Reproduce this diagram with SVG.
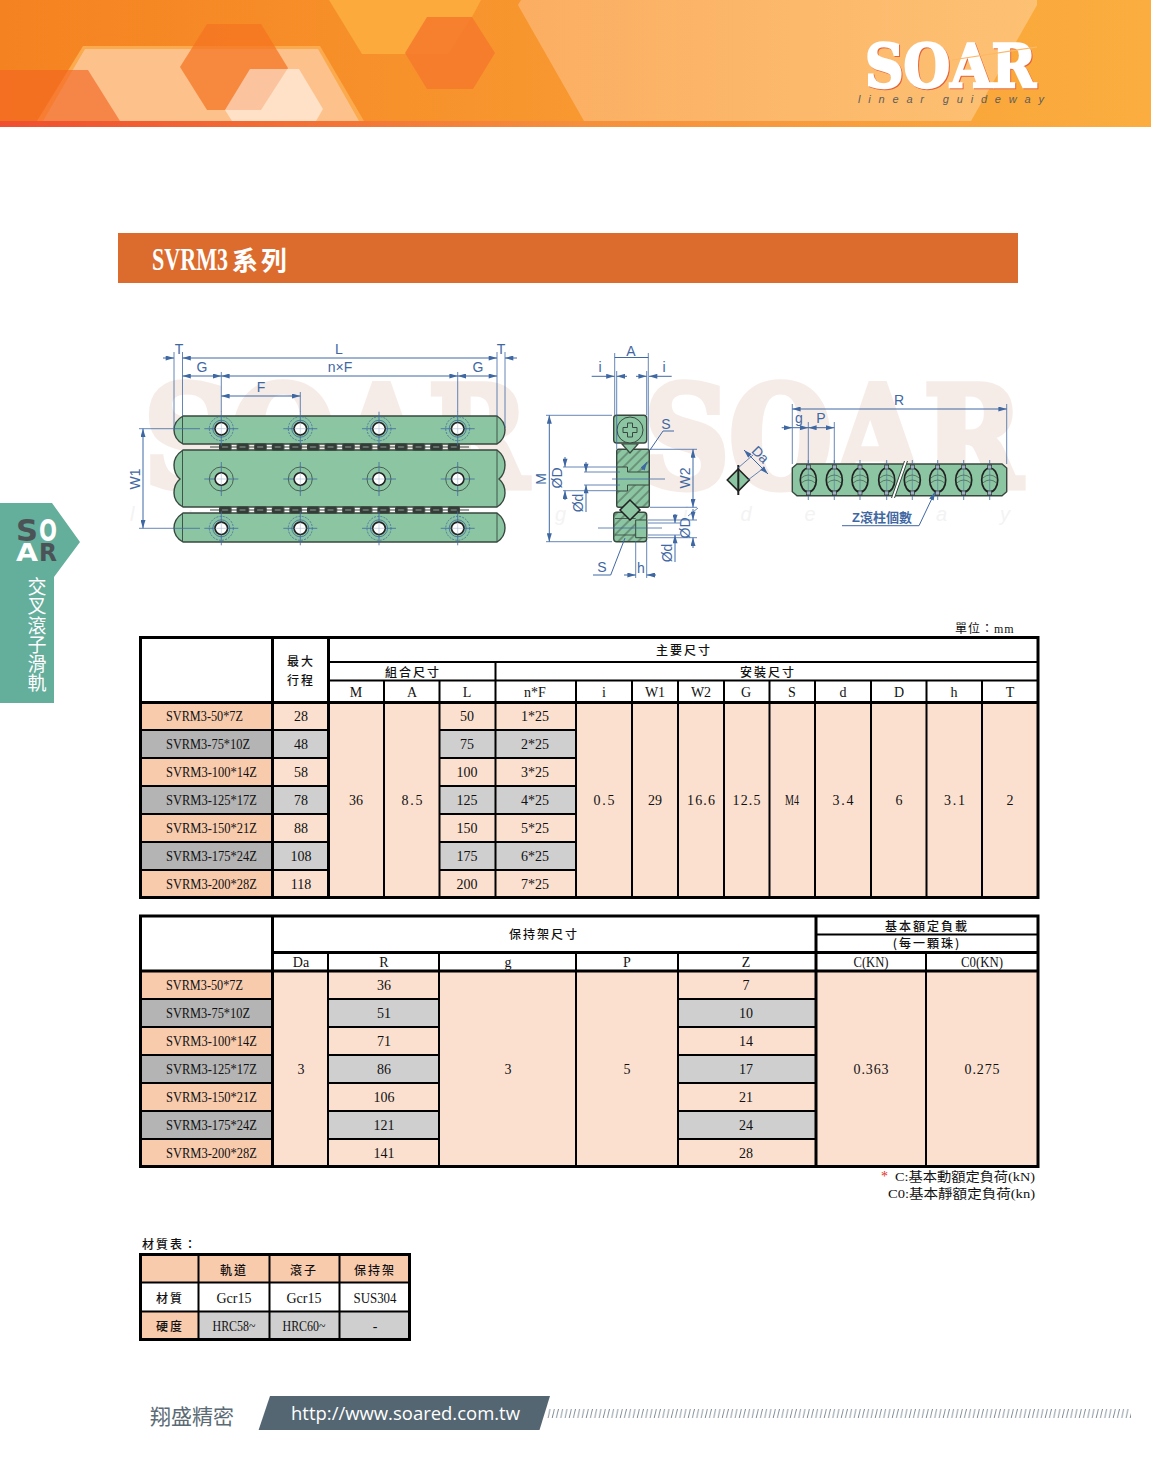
<svg xmlns="http://www.w3.org/2000/svg" width="1154" height="1464" viewBox="0 0 1154 1464">
<style>
text{font-family:"Liberation Serif","Noto Sans CJK TC",serif;fill:#111}
.t{font-size:14px;text-anchor:middle}
.c{font-family:"Noto Sans CJK TC","Liberation Serif",serif;font-size:12px;font-weight:500;text-anchor:middle;letter-spacing:2px;fill:#111}
.d{font-family:"Liberation Sans","Noto Sans CJK TC",sans-serif;font-size:14px;text-anchor:middle;fill:#3f68a3}
.dl{fill:none;stroke:#3f68a3;stroke-width:1}
.da{fill:none;stroke:#3f68a3;stroke-width:1;marker-start:url(#arr);marker-end:url(#arr)}
.ex{fill:none;stroke:#3f68a3;stroke-width:.8}
.part{fill:#8cc5a2;stroke:#38483f;stroke-width:1.4}
.hatch{fill:url(#hat);stroke:#38483f;stroke-width:1.4}
.lab1{fill:#f8cbad}.lab2{fill:#b4b4b4}.peach{fill:#fbe0d0}.grey{fill:#d0cfcf}
.k3{stroke:#000;stroke-width:3;fill:none}
.k2{stroke:#000;stroke-width:2;fill:none}
.wm{font-family:"DejaVu Serif",serif;font-weight:700;fill:#f6ece7;stroke:#f6ece7;stroke-width:7}
.logo{font-family:"DejaVu Serif",serif;font-weight:700}
.tab{font-family:"Noto Sans CJK TC",sans-serif;font-size:19px;text-anchor:middle;fill:#fff}
</style>
<defs>
<linearGradient id="hg" x1="0" x2="1" y1="0" y2="0"><stop offset="0" stop-color="#f58220"/><stop offset="1" stop-color="#fbae3f"/></linearGradient>
<linearGradient id="hs" x1="0" x2="1" y1="0" y2="0"><stop offset="0" stop-color="#ef4f30"/><stop offset=".5" stop-color="#f58f3c"/><stop offset="1" stop-color="#fbae3f"/></linearGradient>
<linearGradient id="hl" x1="0" x2="1" y1="0" y2="0"><stop offset="0" stop-color="#fbae62"/><stop offset="1" stop-color="#fdc173"/></linearGradient>
<marker id="arr" viewBox="0 0 10 6" refX="10" refY="3" markerWidth="9" markerHeight="5" markerUnits="userSpaceOnUse" orient="auto-start-reverse"><path d="M0,0L10,3L0,6Z" fill="#3f68a3"/></marker>
<pattern id="hat" width="7" height="7" patternUnits="userSpaceOnUse" patternTransform="rotate(-45)"><rect width="7" height="7" fill="#8cc5a2"/><path d="M0,1H7" stroke="#38483f" stroke-width=".8"/></pattern>
<pattern id="chain" x="219" y="442.500" width="17.6" height="9" patternUnits="userSpaceOnUse"><rect x="0" y="1" width="12.500" height="7" rx="1.5" fill="#343c38"/><rect x="3" y="4" width="6" height="1" fill="#8fa096"/></pattern>
<pattern id="tick" x="547" y="1409" width="4.25" height="9" patternUnits="userSpaceOnUse"><path d="M1,9L3,0" stroke="#5b6e7a" stroke-width=".8"/></pattern>
<g id="hole"><circle r="12" fill="none" stroke="#3f68a3" stroke-width=".8" stroke-dasharray="2 1.2"/><circle r="8.5" fill="none" stroke="#3f68a3" stroke-width=".8"/><path d="M-17,0H17M0,-17V17" stroke="#3f68a3" stroke-width=".8"/><circle r="6.2" fill="#fff" stroke="#222" stroke-width="1.6"/><path d="M-6,0H6M0,-6V6" stroke="#a8bcd6" stroke-width=".6"/></g>
<g id="hole2"><circle r="12" fill="none" stroke="#38483f" stroke-width=".8"/><path d="M-17,0H17M0,-17V17" stroke="#3f68a3" stroke-width=".8"/><circle r="6.2" fill="#fff" stroke="#222" stroke-width="1.6"/><path d="M-6,0H6M0,-6V6" stroke="#a8bcd6" stroke-width=".6"/></g>
<g id="roller"><path d="M0,-20V-16M0,16V20" stroke="#3f68a3" stroke-width=".8"/><ellipse rx="8" ry="12" fill="#8cc5a2" stroke="#222" stroke-width="1.7"/><path d="M-7,-2Q0,-8 7,-2M-7,3Q0,-3 7,3" stroke="#38483f" stroke-width=".6" fill="none"/><path d="M0,-15V15" stroke="#3f68a3" stroke-width=".5"/><rect x="-2" y="-15" width="4" height="4" fill="#9db0c8" stroke="#222" stroke-width=".6"/><rect x="-2" y="11" width="4" height="4" fill="#9db0c8" stroke="#222" stroke-width=".6"/></g>
</defs>
<rect width="1154" height="1464" fill="#fff"/>

<g id="banner">
<rect width="1151" height="127" fill="url(#hg)"/>
<polygon points="518,5 521,0 1037,0 1037,5 971,121 584,121" fill="url(#hl)"/>
<polygon points="329,0 481,0 472,17 448,54 362,54" fill="#fbaa3b"/>
<polygon points="427,17 472,17 495,53 473,89 427,89 405,53" fill="#f4792b" fill-opacity=".85"/>
<polygon points="83,46 320,46 364,121 37,121" fill="#fbaa4e"/>
<polygon points="85,49 318,49 359,121 43,121" fill="#fdc28c"/>
<polygon points="0,70 88,70 120,121 0,121" fill="#f26522" fill-opacity=".65"/>
<polygon points="207,24 261,24 288,68 261,110 207,110 180,67" fill="#f47321" fill-opacity=".72"/>
<polygon points="250,69 299,69 323,109 316,121 232,121 225,110" fill="#fff" fill-opacity=".5"/>
<rect y="121" width="1151" height="6" fill="url(#hs)"/>
<text class="logo" x="866" y="88" font-size="60" textLength="171" lengthAdjust="spacingAndGlyphs" style="fill:#e4633a;stroke:#e4633a;stroke-width:2.5">SOAR</text>
<text class="logo" x="865" y="87" font-size="60" textLength="171" lengthAdjust="spacingAndGlyphs" style="fill:#fff;stroke:#fff;stroke-width:2.5">SOAR</text>
<path d="M952,60L1037,47" stroke="#fdb866" stroke-width="1.2"/>
<text x="858" y="103" font-size="11" textLength="186" lengthAdjust="spacing" style="font-family:'Liberation Sans',sans-serif;font-style:italic;fill:#5d5d5d">linear guideway</text>
</g>

<g id="side-tab">
<polygon points="0,503 52,503 80,542 54,577 54,703 0,703" fill="#64ae9c"/>
<text x="16" y="541" font-size="30" textLength="22" lengthAdjust="spacingAndGlyphs" style="font-family:'DejaVu Sans',sans-serif;font-weight:700;fill:#4b5357">S</text>
<text x="39" y="541" font-size="30" textLength="18" lengthAdjust="spacingAndGlyphs" style="font-family:'DejaVu Sans',sans-serif;font-weight:700;fill:#fff">O</text>
<text x="16" y="561" font-size="25" textLength="22" lengthAdjust="spacingAndGlyphs" style="font-family:'DejaVu Sans',sans-serif;font-weight:700;fill:#fff">A</text>
<text x="39" y="561" font-size="25" textLength="18" lengthAdjust="spacingAndGlyphs" style="font-family:'DejaVu Sans',sans-serif;font-weight:700;fill:#4b5357">R</text>
<text class="tab" x="37" y="594">交</text>
<text class="tab" x="37" y="613">叉</text>
<text class="tab" x="37" y="633">滾</text>
<text class="tab" x="37" y="652">子</text>
<text class="tab" x="37" y="671">滑</text>
<text class="tab" x="37" y="690">軌</text>
</g>

<g id="title">
<rect x="118" y="233" width="900" height="50" fill="#dc6b2e"/>
<text x="152" y="270" font-size="31" font-weight="700" textLength="76" lengthAdjust="spacingAndGlyphs" style="fill:#fff">SVRM3</text>
<text x="232" y="270" font-size="26" font-weight="700" style="font-family:'Noto Sans CJK TC',serif;fill:#fff;letter-spacing:3px">系列</text>
</g>

<g id="watermark">
<text class="wm" x="144" y="487" font-size="140" textLength="384" lengthAdjust="spacingAndGlyphs">SOAR</text>
<text class="wm" x="644" y="487" font-size="140" textLength="378" lengthAdjust="spacingAndGlyphs">SOAR</text>
<text x="130" y="521" font-size="20" textLength="880" lengthAdjust="spacing" style="font-family:'Liberation Sans',sans-serif;font-style:italic;fill:#f3f3f3">linear guideway</text>
</g>

<g id="front-view">
<path class="part" d="M183,416H497Q505,421 505,430Q505,439 497,444H183Q174,439 174,430Q174,421 183,416Z"/>
<path class="part" d="M183,450H497Q505,456 505,465Q505,474 499,479Q505,484 505,493Q505,502 497,507H183Q174,502 174,493Q174,484 180,479Q174,474 174,465Q174,456 183,450Z"/>
<path class="part" d="M183,513H497Q505,519 505,528Q505,537 497,542H183Q174,537 174,528Q174,519 183,513Z"/>
<path d="M182.5,416V444M497,416V444M182.5,450V507M497,450V507M182.5,513V542M497,513V542" stroke="#38483f" stroke-width=".9"/>
<path d="M210,447H469M210,510H469" stroke="#38483f" stroke-width="1"/>
<rect x="219" y="442.500" width="241" height="9" fill="url(#chain)"/>
<rect x="219" y="505.500" width="241" height="9" fill="url(#chain)"/>
<use href="#hole" x="221.3" y="428.7"/><use href="#hole" x="300.3" y="428.7"/><use href="#hole" x="379" y="428.7"/><use href="#hole" x="457.7" y="428.7"/>
<use href="#hole2" x="221.3" y="479"/><use href="#hole2" x="300.3" y="479"/><use href="#hole2" x="379" y="479"/><use href="#hole2" x="457.7" y="479"/>
<use href="#hole" x="221.3" y="528.3"/><use href="#hole" x="300.3" y="528.3"/><use href="#hole" x="379" y="528.3"/><use href="#hole" x="457.7" y="528.3"/>
<path class="ex" d="M174,352V428M182.5,352V416M497,352V416M505,352V428M221.3,372V412M457.7,372V412M300.3,392V412M139,428.7H200M139,528.3H200"/>
<path class="dl" d="M163,358H174" marker-end="url(#arr)"/>
<path class="dl" d="M517,358H505" marker-end="url(#arr)"/>
<path class="da" d="M182.5,358H497"/>
<path class="da" d="M182.5,376H221.3"/><path class="da" d="M221.3,376H457.7"/><path class="da" d="M457.7,376H497"/>
<path class="da" d="M221.3,396H300.3"/>
<path class="da" d="M143,428.7V528.3"/>
<text class="d" x="179" y="354">T</text><text class="d" x="339" y="354">L</text><text class="d" x="501" y="354">T</text>
<text class="d" x="202" y="372">G</text><text class="d" x="340" y="372">n×F</text><text class="d" x="478" y="372">G</text>
<text class="d" x="261" y="392">F</text>
<text class="d" transform="translate(140,479) rotate(-90)">W1</text>
</g>

<g id="side-view">
<rect class="part" x="613.7" y="415.3" width="33" height="27.7" rx="3"/>
<circle cx="630" cy="430" r="13" fill="#8cc5a2" stroke="#38483f" stroke-width="1"/>
<path d="M627.5,423H632.500V427.500H637V432.500H632.500V437H627.500V432.500H623V427.500H627.500Z" fill="none" stroke="#38483f" stroke-width="1"/>
<rect class="hatch" x="616.7" y="449.3" width="32.6" height="58" rx="2"/>
<path d="M617,467H627.5V472H649V485H627.5V491H617Z" fill="#8cc5a2" stroke="#38483f" stroke-width="1"/>
<path d="M622,444H638L630,453Z" fill="#8cc5a2" stroke="#38483f" stroke-width="1.2"/>
<rect class="hatch" x="613.7" y="512.3" width="33" height="29.4" rx="3"/>
<path d="M635.7,520H646.7V537.7H635.7Z" fill="#8cc5a2" stroke="#38483f" stroke-width="1"/>
<path d="M615,518.5H635.7M615,535H635.7" stroke="#38483f" stroke-width=".8"/>
<path d="M630,500L640,510L630,520L620,510Z" fill="#8cc5a2" stroke="#222" stroke-width="1.5"/>
<path class="ex" d="M614.7,353V415M648.3,353V449M616.7,371V449M646.7,371V415M546,415.3H612M546,541.7H612M563,467H617M563,490.7H617M584,472H620M584,485H620M650,449.3H697M650,507.3H697M648,520H697M648,537.7H697M635.7,541V578M646.7,541V578"/>
<path class="ex" d="M612,479H665M598,528H662"/>
<path class="dl" d="M614.7,357.5H648.3"/>
<path class="dl" d="M591.7,376.3H614.5" marker-end="url(#arr)"/><path class="dl" d="M627,376.3H616.7" marker-end="url(#arr)"/>
<path class="dl" d="M636,376.3H646.7" marker-end="url(#arr)"/><path class="dl" d="M671.7,376.3H649" marker-end="url(#arr)"/>
<path class="da" d="M549.3,415.3V541.7"/>
<path class="dl" d="M565,457V467" marker-end="url(#arr)"/><path class="dl" d="M565,500V490.7" marker-end="url(#arr)"/>
<path class="dl" d="M586,462V472" marker-end="url(#arr)"/><path class="dl" d="M586,512V485" marker-end="url(#arr)"/>
<path class="da" d="M693,449.3V507.3"/>
<path class="dl" d="M650,450L663,431H674"/>
<path class="dl" d="M642,470L647,462" marker-end="url(#arr)"/>
<path class="dl" d="M693,509V520" marker-end="url(#arr)"/><path class="dl" d="M693,548V537.7" marker-end="url(#arr)"/>
<path class="dl" d="M675,514V523" marker-end="url(#arr)"/><path class="dl" d="M675,562V535" marker-end="url(#arr)"/>
<path class="ex" d="M648,523H680M648,535H680M688,516L698,508"/>
<path class="dl" d="M624,575H635.7" marker-end="url(#arr)"/><path class="dl" d="M656,575H646.7" marker-end="url(#arr)"/>
<path class="dl" d="M625,538L610.7,575H593"/>
<text class="d" x="631" y="356">A</text>
<text class="d" x="600" y="372">i</text><text class="d" x="664" y="372">i</text>
<text class="d" x="666" y="429">S</text><text class="d" x="602" y="572">S</text>
<text class="d" x="641" y="573">h</text>
<text class="d" transform="translate(546,479) rotate(-90)">M</text>
<text class="d" transform="translate(562,478) rotate(-90)">ØD</text>
<text class="d" transform="translate(583,503) rotate(-90)">Ød</text>
<text class="d" transform="translate(690,478) rotate(-90)">W2</text>
<text class="d" transform="translate(690,528) rotate(-90)">ØD</text>
<text class="d" transform="translate(672,553) rotate(-90)">Ød</text>
</g>

<g id="retainer">
<path class="part" d="M797,464H1002L1006.7,468V491.7L1002,495.7H797L792.3,491.7V468Z"/>
<use href="#roller" x="808.3" y="480"/><use href="#roller" x="834.3" y="480"/><use href="#roller" x="860" y="480"/><use href="#roller" x="886.7" y="480"/><use href="#roller" x="912.3" y="480"/><use href="#roller" x="937.7" y="480"/><use href="#roller" x="963.7" y="480"/><use href="#roller" x="989.7" y="480"/>
<path d="M906,461L893,498" stroke="#fff" stroke-width="2.5"/>
<path d="M904.5,461L891.5,498M907.5,461L894.5,498" stroke="#38483f" stroke-width="1"/>
<path d="M738.3,469L749.3,480L738.3,491L727.3,480Z" fill="#8cc5a2" stroke="#222" stroke-width="1.6"/>
<path d="M738.3,465V495" stroke="#222" stroke-width="2"/>
<path class="ex" d="M792.3,404V464M1006.7,404V464M808.3,422V464M834.3,422V464M738,468L753,455M748,480L765,467"/>
<path class="da" d="M792.3,409H1006.7"/>
<path class="dl" d="M781.7,427.7H792.3" marker-end="url(#arr)"/><path class="da" d="M808.3,427.7H834.3"/><path class="dl" d="M792.3,427.700H808.3" marker-end="url(#arr)"/>
<path class="da" d="M744,450L768,474"/>
<path class="dl" d="M842,525.7H919L935,492" marker-end="url(#arr)"/>
<text class="d" x="899" y="405">R</text><text class="d" x="799" y="423">g</text><text class="d" x="821" y="423">P</text>
<text class="d" transform="translate(757,458) rotate(45)">Da</text>
<text class="d" x="882" y="522" style="font-size:13px;font-weight:700">Z滾柱個數</text>
</g>

<text x="955" y="633" style="font-family:'Noto Sans CJK TC',serif;font-size:12px;letter-spacing:1px">單位：<tspan style="font-family:'Liberation Serif',serif">mm</tspan></text>

<g id="table-1">
<rect x="272" y="702" width="766" height="195" class="peach"/>
<rect x="140" y="702" width="132" height="28" class="lab1"/><rect x="140" y="730" width="132" height="28" class="lab2"/><rect x="140" y="758" width="132" height="28" class="lab1"/><rect x="140" y="786" width="132" height="28" class="lab2"/><rect x="140" y="814" width="132" height="28" class="lab1"/><rect x="140" y="842" width="132" height="28" class="lab2"/><rect x="140" y="870" width="132" height="27" class="lab1"/>
<rect x="272" y="730" width="56" height="28" class="grey"/><rect x="272" y="786" width="56" height="28" class="grey"/><rect x="272" y="842" width="56" height="28" class="grey"/>
<rect x="439" y="730" width="137" height="28" class="grey"/><rect x="439" y="786" width="137" height="28" class="grey"/><rect x="439" y="842" width="137" height="28" class="grey"/>
<rect class="k3" x="140.500" y="637.500" width="897.500" height="260"/>
<path class="k3" d="M272.500,637V897M328.500,637V897M140,702.500H1038"/>
<path class="k2" d="M328,662H1038M328,680.500H1038M495.500,662V897M384,681V897M439.500,681V897M576,681V897M632,681V897M678,681V897M724,681V897M769.500,681V897M815,681V897M871,681V897M926.500,681V897M982,681V897"/>
<path class="k2" d="M140,730H328M140,758H328M140,786H328M140,814H328M140,842H328M140,870H328M439,730H576M439,758H576M439,786H576M439,814H576M439,842H576M439,870H576"/>
<text class="c" x="684" y="655">主要尺寸</text><text class="c" x="413" y="677">組合尺寸</text><text class="c" x="768" y="677">安裝尺寸</text>
<text class="c" x="301" y="666">最大</text><text class="c" x="301" y="685">行程</text>
<text class="t" x="356" y="697">M</text><text class="t" x="412" y="697">A</text><text class="t" x="467" y="697">L</text><text class="t" x="535" y="697">n*F</text><text class="t" x="604" y="697">i</text><text class="t" x="655" y="697">W1</text><text class="t" x="701" y="697">W2</text><text class="t" x="746" y="697">G</text><text class="t" x="792" y="697">S</text><text class="t" x="843" y="697">d</text><text class="t" x="899" y="697">D</text><text class="t" x="954" y="697">h</text><text class="t" x="1010" y="697">T</text>
<text class="t" x="204.500" y="721" textLength="77" lengthAdjust="spacingAndGlyphs">SVRM3-50*7Z</text><text class="t" x="208" y="749" textLength="84" lengthAdjust="spacingAndGlyphs">SVRM3-75*10Z</text><text class="t" x="211.500" y="777" textLength="91" lengthAdjust="spacingAndGlyphs">SVRM3-100*14Z</text><text class="t" x="211.500" y="805" textLength="91" lengthAdjust="spacingAndGlyphs">SVRM3-125*17Z</text><text class="t" x="211.500" y="833" textLength="91" lengthAdjust="spacingAndGlyphs">SVRM3-150*21Z</text><text class="t" x="211.500" y="861" textLength="91" lengthAdjust="spacingAndGlyphs">SVRM3-175*24Z</text><text class="t" x="211.500" y="889" textLength="91" lengthAdjust="spacingAndGlyphs">SVRM3-200*28Z</text>
<text class="t" x="301" y="721">28</text><text class="t" x="301" y="749">48</text><text class="t" x="301" y="777">58</text><text class="t" x="301" y="805">78</text><text class="t" x="301" y="833">88</text><text class="t" x="301" y="861">108</text><text class="t" x="301" y="889">118</text>
<text class="t" x="467" y="721">50</text><text class="t" x="467" y="749">75</text><text class="t" x="467" y="777">100</text><text class="t" x="467" y="805">125</text><text class="t" x="467" y="833">150</text><text class="t" x="467" y="861">175</text><text class="t" x="467" y="889">200</text>
<text class="t" x="535" y="721">1*25</text><text class="t" x="535" y="749">2*25</text><text class="t" x="535" y="777">3*25</text><text class="t" x="535" y="805">4*25</text><text class="t" x="535" y="833">5*25</text><text class="t" x="535" y="861">6*25</text><text class="t" x="535" y="889">7*25</text>
<text class="t" x="356" y="805">36</text><text class="t" x="412" y="805" textLength="21">8.5</text><text class="t" x="604" y="805" textLength="21">0.5</text><text class="t" x="655" y="805">29</text><text class="t" x="701" y="805" textLength="28">16.6</text><text class="t" x="746.500" y="805" textLength="28">12.5</text><text class="t" x="792" y="805" textLength="14" lengthAdjust="spacingAndGlyphs">M4</text><text class="t" x="843" y="805" textLength="21">3.4</text><text class="t" x="899" y="805">6</text><text class="t" x="954.500" y="805" textLength="21">3.1</text><text class="t" x="1010" y="805">2</text>
</g>

<g id="table-2">
<rect x="272" y="971" width="766" height="195" class="peach"/>
<rect x="140" y="971" width="132" height="28" class="lab1"/><rect x="140" y="999" width="132" height="28" class="lab2"/><rect x="140" y="1027" width="132" height="28" class="lab1"/><rect x="140" y="1055" width="132" height="28" class="lab2"/><rect x="140" y="1083" width="132" height="28" class="lab1"/><rect x="140" y="1111" width="132" height="28" class="lab2"/><rect x="140" y="1139" width="132" height="27" class="lab1"/>
<rect x="328" y="999" width="111" height="28" class="grey"/><rect x="328" y="1055" width="111" height="28" class="grey"/><rect x="328" y="1111" width="111" height="28" class="grey"/>
<rect x="678" y="999" width="138" height="28" class="grey"/><rect x="678" y="1055" width="138" height="28" class="grey"/><rect x="678" y="1111" width="138" height="28" class="grey"/>
<rect class="k3" x="140.500" y="916" width="897.500" height="250.500"/>
<path class="k3" d="M272.500,916V1166M816,916V1166M140,971H1038M272,952.500H1038"/>
<path class="k2" d="M816,934.500H1038M328,952V1166M439,952V1166M576,952V1166M678,952V1166M926,952V1166"/>
<path class="k2" d="M140,999H272M140,1027H272M140,1055H272M140,1083H272M140,1111H272M140,1139H272M328,999H439M328,1027H439M328,1055H439M328,1083H439M328,1111H439M328,1139H439M678,999H816M678,1027H816M678,1055H816M678,1083H816M678,1111H816M678,1139H816"/>
<text class="c" x="544" y="939">保持架尺寸</text><text class="c" x="927" y="931">基本額定負載</text><text class="c" x="927" y="948">(每一顆珠)</text>
<text class="t" x="301" y="967">Da</text><text class="t" x="384" y="967">R</text><text class="t" x="508" y="967">g</text><text class="t" x="627" y="967">P</text><text class="t" x="746" y="967">Z</text><text class="t" x="871" y="967" textLength="35" lengthAdjust="spacingAndGlyphs">C(KN)</text><text class="t" x="982" y="967" textLength="42" lengthAdjust="spacingAndGlyphs">C0(KN)</text>
<text class="t" x="204.500" y="990" textLength="77" lengthAdjust="spacingAndGlyphs">SVRM3-50*7Z</text><text class="t" x="208" y="1018" textLength="84" lengthAdjust="spacingAndGlyphs">SVRM3-75*10Z</text><text class="t" x="211.500" y="1046" textLength="91" lengthAdjust="spacingAndGlyphs">SVRM3-100*14Z</text><text class="t" x="211.500" y="1074" textLength="91" lengthAdjust="spacingAndGlyphs">SVRM3-125*17Z</text><text class="t" x="211.500" y="1102" textLength="91" lengthAdjust="spacingAndGlyphs">SVRM3-150*21Z</text><text class="t" x="211.500" y="1130" textLength="91" lengthAdjust="spacingAndGlyphs">SVRM3-175*24Z</text><text class="t" x="211.500" y="1158" textLength="91" lengthAdjust="spacingAndGlyphs">SVRM3-200*28Z</text>
<text class="t" x="384" y="990">36</text><text class="t" x="384" y="1018">51</text><text class="t" x="384" y="1046">71</text><text class="t" x="384" y="1074">86</text><text class="t" x="384" y="1102">106</text><text class="t" x="384" y="1130">121</text><text class="t" x="384" y="1158">141</text>
<text class="t" x="746" y="990">7</text><text class="t" x="746" y="1018">10</text><text class="t" x="746" y="1046">14</text><text class="t" x="746" y="1074">17</text><text class="t" x="746" y="1102">21</text><text class="t" x="746" y="1130">24</text><text class="t" x="746" y="1158">28</text>
<text class="t" x="301" y="1074">3</text><text class="t" x="508" y="1074">3</text><text class="t" x="627" y="1074">5</text><text class="t" x="871" y="1074" textLength="35">0.363</text><text class="t" x="982" y="1074" textLength="35">0.275</text>
</g>

<g id="notes">
<text x="881" y="1181" font-size="14" style="fill:#e0301e">*</text>
<text x="1035" y="1181" font-size="13" text-anchor="end" textLength="140" lengthAdjust="spacingAndGlyphs">C:基本動額定負荷(kN)</text>
<text x="1035" y="1198" font-size="13" text-anchor="end" textLength="147" lengthAdjust="spacingAndGlyphs">C0:基本靜額定負荷(kn)</text>
</g>

<g id="material-table">
<text x="142" y="1249" style="font-family:'Noto Sans CJK TC',serif;font-size:12px;font-weight:500;letter-spacing:2px">材質表：</text>
<rect x="140" y="1254" width="270" height="28" class="lab1"/>
<rect x="140" y="1282" width="270" height="30" fill="#fff"/>
<rect x="140" y="1312" width="58" height="28" class="lab1"/>
<rect x="198" y="1312" width="212" height="28" class="grey"/>
<rect class="k3" x="140.500" y="1254.500" width="269" height="85"/>
<path class="k2" d="M140,1282.500H410M140,1311.500H410M198.500,1254V1340M269.500,1254V1340M339.500,1254V1340"/>
<text class="c" x="234" y="1275">軌道</text><text class="c" x="304" y="1275">滾子</text><text class="c" x="375" y="1275">保持架</text>
<text class="c" x="170" y="1303">材質</text><text class="c" x="170" y="1331">硬度</text>
<text class="t" x="234" y="1303">Gcr15</text><text class="t" x="304" y="1303">Gcr15</text><text class="t" x="375" y="1303" textLength="43" lengthAdjust="spacingAndGlyphs">SUS304</text>
<text class="t" x="234" y="1331" textLength="43" lengthAdjust="spacingAndGlyphs">HRC58~</text><text class="t" x="304" y="1331" textLength="43" lengthAdjust="spacingAndGlyphs">HRC60~</text><text class="t" x="375" y="1331">-</text>
</g>

<g id="footer">
<text x="150" y="1424" font-size="21" style="font-family:'Noto Sans CJK TC',sans-serif;fill:#5b6b75">翔盛精密</text>
<polygon points="270,1396 550,1396 539.500,1430 258.600,1430" fill="#546672"/>
<text x="291" y="1420" font-size="19" textLength="229" lengthAdjust="spacingAndGlyphs" style="font-family:'Open Sans',sans-serif;fill:#fff">http://www.soared.com.tw</text>
<rect x="547" y="1409" width="584" height="9" fill="url(#tick)"/>
</g>
</svg>
